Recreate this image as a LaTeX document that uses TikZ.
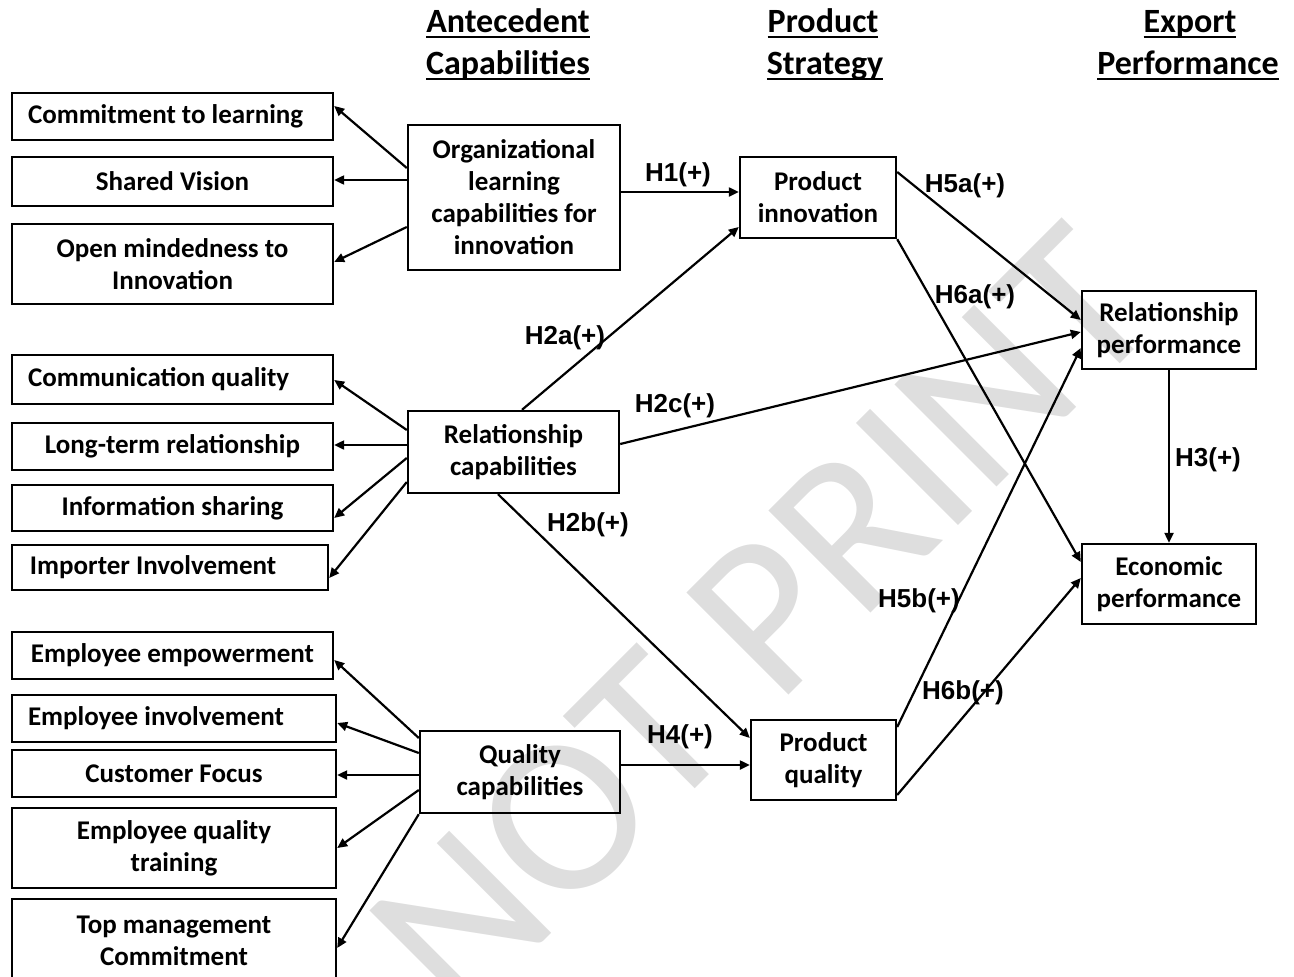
\documentclass[tikz,border=0pt]{standalone}
\usepackage{fontspec}
\setmainfont{Carlito}
\newfontfamily\labfont{Liberation Sans}
\usetikzlibrary{arrows.meta}
\newcommand\ulhead[1]{\setbox0=\hbox{#1}\rlap{\rule[-6pt]{\wd0}{2pt}}\box0}
\begin{document}
\begin{tikzpicture}[x=1pt,y=-1pt,
  box/.style={draw, line width=2.4pt, inner sep=0pt, align=center, font=\bfseries\fontsize{27}{32}\selectfont},
  lbox/.style={box, minimum width=321pt},
  arr/.style={line width=2.2pt, -{Triangle[length=10pt,width=9pt]}},
  lab/.style={font=\labfont\bfseries\fontsize{26}{26}\selectfont, inner sep=0pt},
  hdrnode/.style={font=\bfseries\fontsize{34}{42}\selectfont, inner sep=0pt, anchor=base},
]
\clip (0,0) rectangle (1294,977);
% watermark
\node[rotate=45, font=\fontsize{225}{225}\selectfont, text=black!13, inner sep=0pt] (wm) at (762,620) {NOT PRINT};

% headers
\node[hdrnode] (ha1) at (508,32) {\ulhead{Antecedent}};
\node[hdrnode] (ha2) at (508,74) {\ulhead{Capabilities}};
\node[hdrnode] (hp1) at (823,32) {\ulhead{Product}};
\node[hdrnode] (hp2) at (825,74) {\ulhead{Strategy}};
\node[hdrnode] (he1) at (1190,32) {\ulhead{Export}};
\node[hdrnode] (he2) at (1188,74) {\ulhead{Performance}};

% left boxes
\node[lbox, minimum height=47pt] (c1) at (172.5,116.5) {\makebox[289pt][l]{Commitment to learning}};
\node[lbox, minimum height=49pt] (c2) at (172.5,181.5) {Shared Vision};
\node[lbox, minimum height=80pt] (c3) at (172.5,264) {Open mindedness to\\Innovation};
\node[lbox, minimum height=49pt] (r1) at (172.5,379.5) {\makebox[289pt][l]{Communication quality}};
\node[lbox, minimum height=47pt] (r2) at (172.5,446.5) {Long-term relationship};
\node[lbox, minimum height=46pt] (r3) at (172.5,508) {Information sharing};
\node[lbox, minimum width=316pt, minimum height=45pt] (r4) at (170,567.5) {\makebox[280pt][l]{Importer Involvement}};
\node[lbox, minimum height=47pt] (q1) at (172.5,655.5) {Employee empowerment};
\node[lbox, minimum width=324pt, minimum height=47pt] (q2) at (174,718.5) {\makebox[292pt][l]{Employee involvement}};
\node[lbox, minimum width=324pt, minimum height=47pt] (q3) at (174,773.5) {Customer Focus};
\node[lbox, minimum width=324pt, minimum height=80pt] (q4) at (174,848) {Employee quality\\training};
\node[lbox, minimum width=324pt, minimum height=84pt] (q5) at (174,941) {Top management\\Commitment};

% middle and right boxes
\node[box, minimum width=212pt, minimum height=145pt] (org) at (514,197.5) {Organizational\\learning\\capabilities for\\innovation};
\node[box, minimum width=211pt, minimum height=82pt] (rel) at (513.5,452) {Relationship\\capabilities};
\node[box, minimum width=200pt, minimum height=82pt] (qual) at (520,772) {Quality\\capabilities};
\node[box, minimum width=156pt, minimum height=81pt] (pinn) at (818,197.5) {Product\\innovation};
\node[box, minimum width=145pt, minimum height=80pt] (pq) at (823.5,760) {Product\\quality};
\node[box, minimum width=174pt, minimum height=78pt] (relp) at (1169,330) {Relationship\\performance};
\node[box, minimum width=174pt, minimum height=80pt] (econ) at (1169,584) {Economic\\performance};

% indicator arrows
\draw[arr] (org.west |- 0,168) -- (c1.east |- 0,106);
\draw[arr] (org.west |- 0,180) -- (c2.east |- 0,180);
\draw[arr] (org.west |- 0,227) -- (c3.east |- 0,262);
\draw[arr] (rel.west |- 0,430) -- (r1.east |- 0,380);
\draw[arr] (rel.west |- 0,445) -- (r2.east |- 0,445);
\draw[arr] (rel.west |- 0,458) -- (r3.east |- 0,518);
\draw[arr] (rel.west |- 0,482) -- (r4.east |- 0,578);
\draw[arr] (qual.west |- 0,738) -- (q1.east |- 0,660);
\draw[arr] (qual.west |- 0,753) -- (q2.east |- 0,723);
\draw[arr] (qual.west |- 0,775) -- (q3.east |- 0,775);
\draw[arr] (qual.west |- 0,790) -- (q4.east |- 0,848);
\draw[arr] (qual.south west) -- (q5.east |- 0,948);

% structural arrows
\draw[arr] (org.east |- 0,192) -- (pinn.west |- 0,192);
\draw[arr] (rel.north -| 522,0) -- (pinn.west |- 0,227);
\draw[arr] (rel.east |- 0,444) -- (relp.west |- 0,332);
\draw[arr] (rel.south -| 498,0) -- (pq.west |- 0,738);
\draw[arr] (qual.east |- 0,765) -- (pq.west |- 0,765);
\draw[arr] (pinn.east |- 0,172) -- (relp.west |- 0,320);
\draw[arr] (pinn.south east) -- (econ.west |- 0,562);
\draw[arr] (pq.east |- 0,727) -- (relp.west |- 0,348);
\draw[arr] (pq.east |- 0,795) -- (econ.west |- 0,578);
\draw[arr] (relp.south) -- (econ.north);

% labels
\node[lab] (l1) at (678,175) {H1(+)};
\node[lab] (l2a) at (565,338) {H2a(+)};
\node[lab] (l2c) at (675,406) {H2c(+)};
\node[lab] (l2b) at (588,525) {H2b(+)};
\node[lab] (l4) at (680,737) {H4(+)};
\node[lab] (l5a) at (965,186) {H5a(+)};
\node[lab] (l6a) at (975,297) {H6a(+)};
\node[lab] (l5b) at (919,601) {H5b(+)};
\node[lab] (l6b) at (963,693) {H6b(+)};
\node[lab] (l3) at (1208,460) {H3(+)};
\end{tikzpicture}
\end{document}
